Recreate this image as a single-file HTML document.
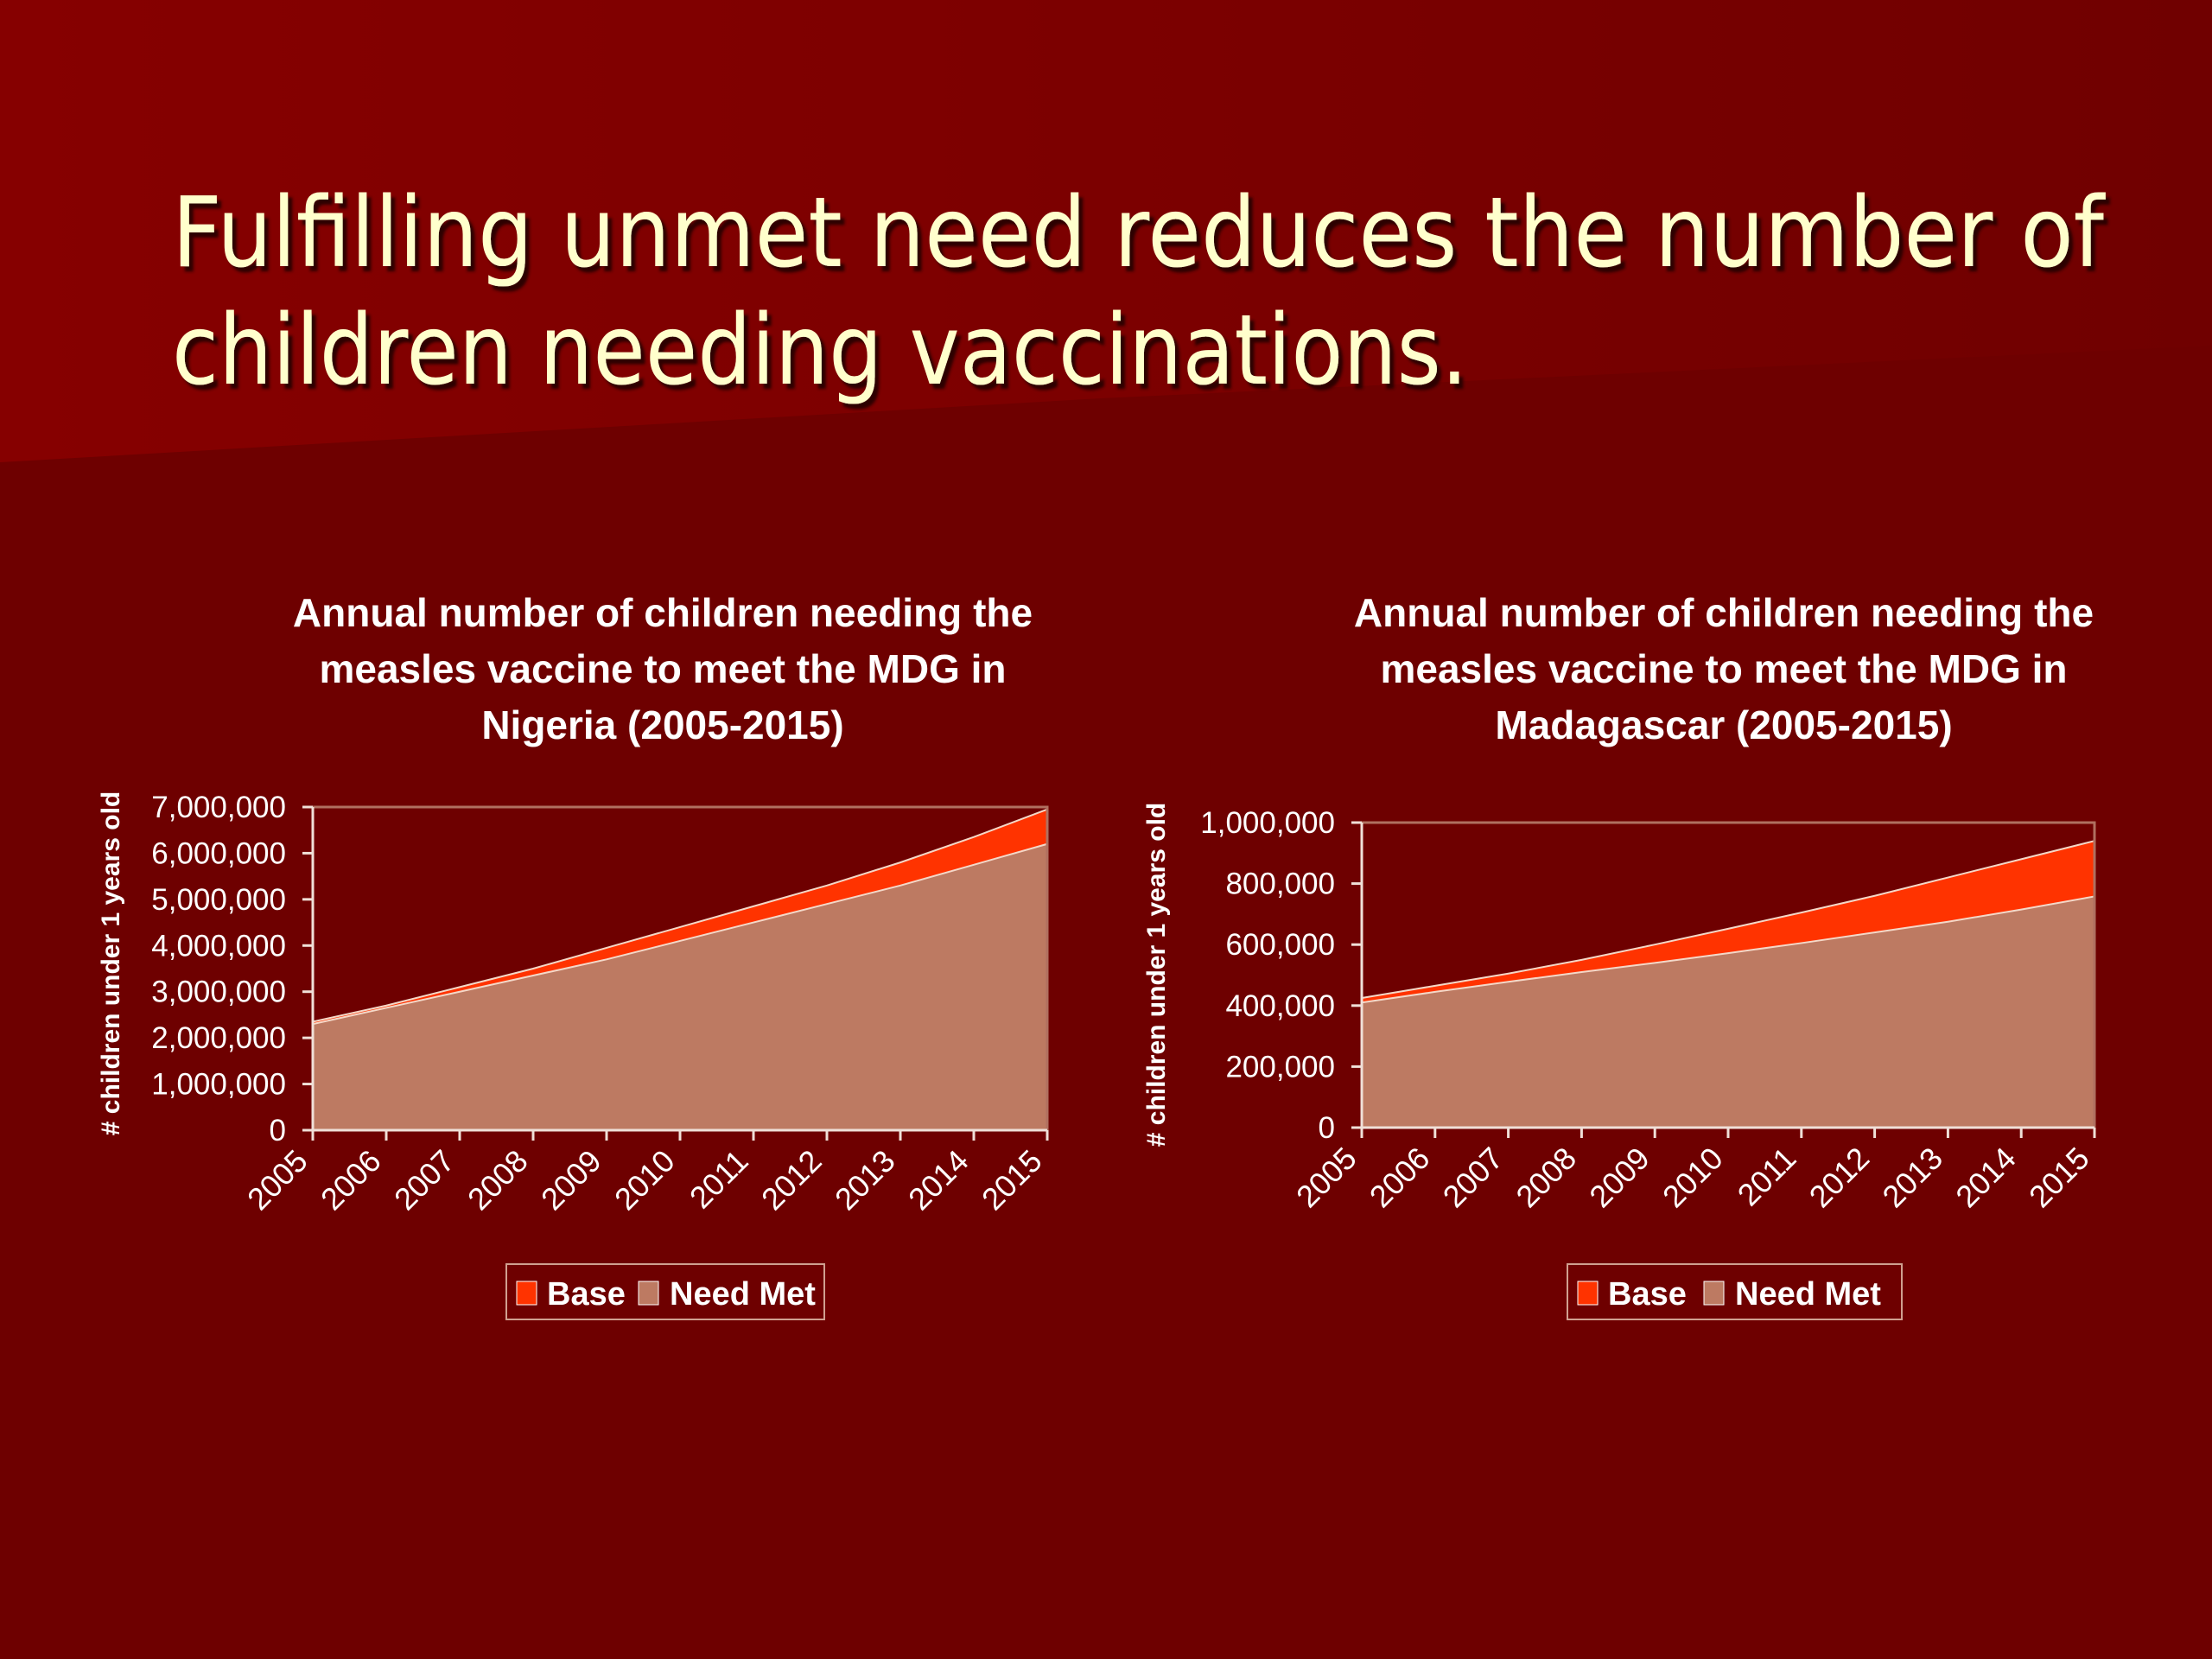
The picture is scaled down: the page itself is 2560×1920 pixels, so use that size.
<!DOCTYPE html>
<html><head><meta charset="utf-8">
<style>
html,body{margin:0;padding:0;background:#6e0000;}
svg{display:block;font-family:"Liberation Sans",Arial,sans-serif;}
</style></head>
<body>
<svg id="slide" width="2560" height="1920" viewBox="0 0 2560 1920" xmlns="http://www.w3.org/2000/svg">
<defs>
<linearGradient id="bandg" x1="0" y1="0" x2="1" y2="0">
<stop offset="0" stop-color="#860000"/><stop offset="0.5" stop-color="#7c0000"/><stop offset="1" stop-color="#700000"/>
</linearGradient>
<filter id="sh" x="-5%" y="-5%" width="110%" height="120%"><feDropShadow dx="5" dy="6" stdDeviation="1.5" flood-color="#200000" flood-opacity="0.9"/></filter>
</defs>
<rect x="0" y="0" width="2560" height="1920" fill="#6e0000"/>
<polygon points="0,0 2560,0 2560,400 1274,461 0,535" fill="url(#bandg)"/>
<g fill="#ffffcc" font-family="'DejaVu Sans',Tahoma,sans-serif" font-size="112" filter="url(#sh)">
<text x="199" y="308" textLength="2236" lengthAdjust="spacingAndGlyphs">Fulfilling unmet need reduces the number of</text>
<text x="199" y="444" textLength="1500" lengthAdjust="spacingAndGlyphs">children needing vaccinations.</text>
</g>
<g id="charts"></g>
</svg>
<script>
const years = ['2005','2006','2007','2008','2009','2010','2011','2012','2013','2014','2015'];
// Nigeria
const ngNeedMet = [2300000,2650000,3000000,3350000,3700000,4100000,4500000,4900000,5300000,5750000,6200000];
const ngBase = [50000,50000,100000,150000,250000,300000,350000,400000,500000,600000,750000];
const ngTicks = [0,1000000,2000000,3000000,4000000,5000000,6000000,7000000];
// Madagascar
const mgNeedMet = [410000,445000,478000,510000,540000,572000,605000,640000,675000,715000,758000];
const mgBase = [15000,20000,27000,40000,60000,80000,100000,120000,145000,165000,182000];
const mgTicks = [0,200000,400000,600000,800000,1000000];

const NS='http://www.w3.org/2000/svg';
const root=document.getElementById('charts');
function mk(tag,attrs,parent){const e=document.createElementNS(NS,tag);for(const k in attrs)e.setAttribute(k,attrs[k]);(parent||root).appendChild(e);return e;}
function fmt(v){return v.toLocaleString('en-US');}

function chart(cfg){
  const g=mk('g',{});
  
  
  const {x0,x1,y0,y1,max}=cfg;
  const xs=i=>x0+(x1-x0)*i/(years.length-1);
  const ys=v=>y1-(y1-y0)*v/max;
  // title
  cfg.title.forEach((t,i)=>{
    const e=mk('text',{x:cfg.tx,y:725+i*65,'text-anchor':'middle',fill:'#fff','font-size':46,'font-weight':'bold'},g);
    
    
    e.textContent=t;
  });
  // areas
  const tot=cfg.need.map((v,i)=>v+cfg.base[i]);
  let top=cfg.need.map((v,i)=>xs(i)+','+ys(v)).join(' ');
  let totp=tot.map((v,i)=>xs(i)+','+ys(v)).join(' ');
  let needRev=cfg.need.map((v,i)=>xs(i)+','+ys(v)).reverse().join(' ');
  const ab=mk('polygon',{points:totp+' '+needRev,fill:'#ff3300',stroke:'none'},g);
  
  
  const an=mk('polygon',{points:top+' '+x1+','+y1+' '+x0+','+y1,fill:'#bd7a62'},g);
  
  
  mk('polyline',{points:totp,fill:'none',stroke:'#f4d8c8','stroke-width':2},g);
  mk('polyline',{points:top,fill:'none',stroke:'#f4d8c8','stroke-width':2},g);
  // border
  mk('polyline',{points:`${x0},${y0} ${x1},${y0} ${x1},${y1}`,fill:'none',stroke:'#b07060','stroke-width':3},g);
  const ya=mk('line',{x1:x0,y1:y0,x2:x0,y2:y1,stroke:'#f0e0d8','stroke-width':3},g);
  
  
  const xa=mk('line',{x1:x0,y1:y1,x2:x1,y2:y1,stroke:'#f0e0d8','stroke-width':3},g);
  
  
  cfg.ticks.forEach(v=>{
    mk('line',{x1:x0-12,y1:ys(v),x2:x0,y2:ys(v),stroke:'#f0e0d8','stroke-width':3},g);
    const t=mk('text',{x:x0-31,y:ys(v)+12,'text-anchor':'end',fill:'#fff','font-size':35},g);
    
    
    t.textContent=fmt(v);
  });
  years.forEach((yr,i)=>{
    mk('line',{x1:xs(i),y1:y1,x2:xs(i),y2:y1+12,stroke:'#f0e0d8','stroke-width':3},g);
    const t=mk('text',{x:0,y:0,'text-anchor':'end',fill:'#fff','font-size':36,transform:`translate(${xs(i)-4},${y1+38}) rotate(-45)`},g);
    
    
    t.textContent=yr;
  });
  const yt=mk('text',{x:0,y:0,'text-anchor':'middle',fill:'#fff','font-size':30,'font-weight':'bold',transform:`translate(${cfg.ytx},${cfg.yty}) rotate(-90)`},g);
  
  
  yt.textContent='# children under 1 years old';
  // legend
  const L=cfg.leg;
  const lg=mk('g',{},g);
  
  
  mk('rect',{x:L.x,y:1463,width:L.w,height:64,fill:'none',stroke:'#d0a090','stroke-width':2},lg);
  mk('rect',{x:L.s1,y:1483,width:23,height:27,fill:'#ff3300',stroke:'#ffffff','stroke-width':1},lg);
  const t1=mk('text',{x:L.s1+35,y:1510,fill:'#fff','font-size':38,'font-weight':'bold'},lg);
  
  
  t1.textContent='Base';
  mk('rect',{x:L.s2,y:1483,width:23,height:27,fill:'#bd7a62',stroke:'#ffffff','stroke-width':1},lg);
  const t2=mk('text',{x:L.s2+36,y:1510,fill:'#fff','font-size':38,'font-weight':'bold'},lg);
  
  
  t2.textContent='Need Met';
}
chart({name:'nigeria-chart',x0:362,x1:1212,y0:934,y1:1308,max:7000000,need:ngNeedMet,base:ngBase,ticks:ngTicks,
  tx:767,title:['Annual number of children needing the','measles vaccine to meet the MDG in','Nigeria (2005-2015)'],
  ytx:138,yty:1115,leg:{x:586,w:368,s1:598,s2:739}});
chart({name:'madagascar-chart',x0:1576,x1:2424,y0:952,y1:1305,max:1000000,need:mgNeedMet,base:mgBase,ticks:mgTicks,
  tx:1995,title:['Annual number of children needing the','measles vaccine to meet the MDG in','Madagascar (2005-2015)'],
  ytx:1348,yty:1128,leg:{x:1814,w:387,s1:1826,s2:1972}});
</script>
</body></html>
